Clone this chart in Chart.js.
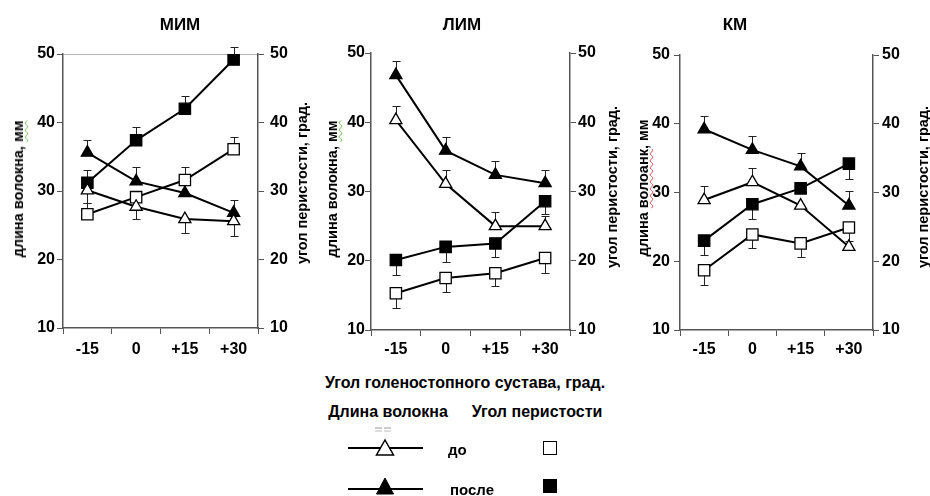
<!DOCTYPE html>
<html>
<head>
<meta charset="utf-8">
<script src="https://cdn.jsdelivr.net/npm/chart.js@4.4.1/dist/chart.umd.min.js"></script>
<style>
body { margin: 0; background: #fff; }
#wrap { position: relative; width: 930px; height: 496px; overflow: hidden;
        font-family: "Liberation Sans", Arial, sans-serif; font-weight: bold; color: #000; }
canvas { position: absolute; top: 0; }
.t { position: absolute; white-space: nowrap; transform: translate(-50%, -50%); }
.l { position: absolute; white-space: nowrap; transform: translateY(-50%); }
.v { position: absolute; white-space: nowrap; font-size: 14.5px;
     transform: translate(-50%, -50%) rotate(-90deg); }
.wg { text-decoration: underline wavy #6bbf4e; text-decoration-thickness: 1px; text-underline-offset: 1px; }
.wr { text-decoration: underline wavy #e05050; text-decoration-thickness: 1px; text-underline-offset: 1px; }
</style>
</head>
<body>
<div id="wrap">
  <canvas id="c1" width="310" height="370" style="left:0"></canvas>
  <canvas id="c2" width="320" height="370" style="left:310px"></canvas>
  <canvas id="c3" width="300" height="370" style="left:630px"></canvas>

  <div class="t" style="left:180px; top:25px; font-size:17px">МИМ</div>
  <div class="t" style="left:462px; top:25px; font-size:17px">ЛИМ</div>
  <div class="t" style="left:735px; top:25px; font-size:17px">КМ</div>

  <div class="v" style="left:18px; top:189px">длина волокна, <span class="wg">мм</span></div>
  <div class="v" style="left:302px; top:183px">угол перистости, град.</div>
  <div class="v" style="left:332px; top:189px">длина волокна, <span class="wg">мм</span></div>
  <div class="v" style="left:612px; top:187px">угол перистости, град.</div>
  <div class="v" style="left:643px; top:188px">длина <span class="wr">волоанк</span>, мм</div>
  <div class="v" style="left:923px; top:187px">угол перистости, град.</div>

  <div class="t" style="left:465px; top:383px; font-size:16px">Угол голеностопного сустава, град.</div>
  <div class="t" style="left:388px; top:412px; font-size:16px">Длина волокна</div>
  <div class="t" style="left:537px; top:412px; font-size:16px">Угол перистости</div>

  <svg style="position:absolute; left:0; top:0" width="930" height="496">
    <line x1="375" y1="428" x2="382" y2="428" stroke="#999" stroke-width="1"/>
    <line x1="384" y1="428" x2="391" y2="428" stroke="#999" stroke-width="1"/>
    <line x1="375" y1="431" x2="382" y2="431" stroke="#bbb" stroke-width="1"/>
    <line x1="384" y1="431" x2="391" y2="431" stroke="#bbb" stroke-width="1"/>
    <line x1="348" y1="448" x2="423" y2="448" stroke="#000" stroke-width="2"/>
    <polygon points="385,440 393.5,455 376.5,455" fill="#fff" stroke="#000" stroke-width="1.5"/>
    <rect x="543.5" y="441.5" width="13" height="13" fill="#fff" stroke="#000" stroke-width="1"/>
    <line x1="348" y1="489" x2="423" y2="489" stroke="#000" stroke-width="2"/>
    <polygon points="385,478 393.5,494 376.5,494" fill="#000" stroke="#000" stroke-width="1"/>
    <rect x="543" y="479" width="14" height="14" fill="#000"/>
  </svg>
  <div class="l" style="left:448px; top:449px; font-size:15px">до</div>
  <div class="l" style="left:450px; top:489px; font-size:15px">после</div>
</div>

<script>
const angles = ['-15', '0', '+15', '+30'];
const yTicks = [10, 20, 30, 40, 50];

// МИМ
const mimLenBefore = [30.1, 27.7, 25.9, 25.6];
const mimLenBeforeErr = [-1.8, -1.8, -2.0, -2.2];
const mimLenAfter = [35.6, 31.4, 29.7, 26.8];
const mimLenAfterErr = [1.9, 2.1, 0, 1.9];
const mimAngBefore = [26.6, 29.1, 31.6, 36.1];
const mimAngBeforeErr = [1.6, 0, 1.9, 1.8];
const mimAngAfter = [31.2, 37.4, 42.0, 49.2];
const mimAngAfterErr = [1.8, 1.9, 1.9, 1.8];

// ЛИМ
const limLenBefore = [40.3, 31.1, 25.0, 25.0];
const limLenBeforeErr = [2.0, 2.0, 2.1, 1.4];
const limLenAfter = [46.8, 35.9, 32.4, 31.2];
const limLenAfterErr = [2.0, 1.9, 2.0, 1.9];
const limAngBefore = [15.3, 17.5, 18.2, 20.4];
const limAngBeforeErr = [-2.1, -2.0, -1.9, -2.1];
const limAngAfter = [20.1, 22.0, 22.5, 28.6];
const limAngAfterErr = [-2.1, -2.2, -2.0, -1.9];

// КМ
const kmLenBefore = [28.9, 31.5, 28.1, 22.1];
const kmLenBeforeErr = [2.0, 2.0, 0, 0];
const kmLenAfter = [39.2, 36.2, 33.8, 28.1];
const kmLenAfterErr = [2.0, 2.0, 2.0, 2.1];
const kmAngBefore = [18.7, 23.9, 22.6, 24.9];
const kmAngBeforeErr = [-2.2, -2.0, -2.0, -2.0];
const kmAngAfter = [23.0, 28.3, 30.6, 34.2];
const kmAngAfterErr = [-2.1, -2.1, 0, -2.2];

const tickFont = { family: '"Liberation Sans", Arial, sans-serif', size: 16, weight: 'bold' };
const axisColor = '#555';

// error bars drawn under the markers, through the chart's own y scales
const errorBars = {
    id: 'errorBars',
    beforeDatasetsDraw(chart) {
        const ctx = chart.ctx;
        ctx.save();
        ctx.strokeStyle = '#222';
        ctx.lineWidth = 1;
        chart.data.datasets.forEach((ds, i) => {
            const scale = chart.scales[ds.yAxisID];
            chart.getDatasetMeta(i).data.forEach((pt, j) => {
                const e = ds.err[j];
                if (!e) return;
                const y0 = scale.getPixelForValue(ds.data[j]);
                const y1 = Math.round(scale.getPixelForValue(ds.data[j] + e)) + 0.5;
                const x = Math.round(pt.x) + 0.5;
                ctx.beginPath();
                ctx.moveTo(x, y0);
                ctx.lineTo(x, y1);
                ctx.moveTo(x - 4, y1);
                ctx.lineTo(x + 4, y1);
                ctx.stroke();
            });
        });
        ctx.restore();
    }
};

function series(data, err, shape, filled, axis) {
    return {
        data: data,
        err: err,
        yAxisID: axis,
        borderColor: '#000',
        borderWidth: 2,
        tension: 0,
        pointStyle: shape,
        pointRadius: shape == 'rect' ? 8 : 7,
        pointHoverRadius: shape == 'rect' ? 8 : 7,
        pointBorderWidth: 1.3,
        pointBorderColor: '#000',
        pointBackgroundColor: filled ? '#000' : '#fff'
    };
}

function yAxis(pos, width, gap, topLine) {
    return {
        position: pos,
        min: yTicks[0],
        max: yTicks[yTicks.length - 1],
        ticks: { stepSize: yTicks[1] - yTicks[0], color: '#000', font: tickFont, padding: gap - 6 },
        grid: {
            drawOnChartArea: topLine,
            color: c => (c.tick && c.tick.value == yTicks[yTicks.length - 1]) ? '#b5b5b5' : 'rgba(0,0,0,0)',
            tickColor: axisColor,
            tickLength: 6
        },
        border: { color: axisColor, width: 1.5 },
        afterFit: s => { s.width = width; }
    };
}

function createChart(id, sets, p) {
    new Chart(document.getElementById(id), {
        type: 'line',
        data: {
            labels: angles,
            datasets: [
                series(sets[0], sets[1], 'triangle', false, 'y'),
                series(sets[2], sets[3], 'triangle', true, 'y'),
                series(sets[4], sets[5], 'rect', false, 'y2'),
                series(sets[6], sets[7], 'rect', true, 'y2')
            ]
        },
        options: {
            responsive: false,
            animation: false,
            layout: { padding: { top: p.top, left: 0, right: 0, bottom: 0 } },
            plugins: { legend: { display: false }, tooltip: { enabled: false } },
            scales: {
                x: {
                    offset: true,
                    grid: { offset: true, drawOnChartArea: false, tickLength: 6, tickColor: axisColor },
                    border: { color: axisColor, width: 1.5 },
                    ticks: { color: '#000', font: tickFont, padding: p.xPad, maxRotation: 0, autoSkip: false },
                    afterFit: s => { s.height = p.xH; }
                },
                y: yAxis('left', p.yW, p.lGap, p.topLine),
                y2: yAxis('right', p.y2W, p.rGap, false)
            }
        },
        plugins: [errorBars]
    });
}

createChart('c1',
    [mimLenBefore, mimLenBeforeErr, mimLenAfter, mimLenAfterErr,
     mimAngBefore, mimAngBeforeErr, mimAngAfter, mimAngAfterErr],
    { top: 54, yW: 63, y2W: 52, xH: 42, lGap: 8, rGap: 12, xPad: 6, topLine: true });

createChart('c2',
    [limLenBefore, limLenBeforeErr, limLenAfter, limLenAfterErr,
     limAngBefore, limAngBeforeErr, limAngAfter, limAngAfterErr],
    { top: 53, yW: 61, y2W: 60, xH: 40, lGap: 6, rGap: 8, xPad: 4, topLine: false });

createChart('c3',
    [kmLenBefore, kmLenBeforeErr, kmLenAfter, kmLenAfterErr,
     kmAngBefore, kmAngBeforeErr, kmAngAfter, kmAngAfterErr],
    { top: 55, yW: 50, y2W: 57, xH: 40, lGap: 10, rGap: 9, xPad: 4, topLine: false });
</script>
</body>
</html>
